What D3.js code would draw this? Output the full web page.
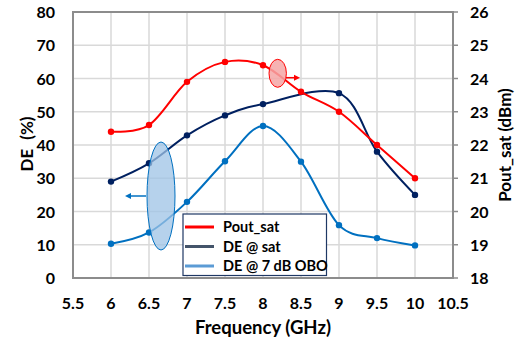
<!DOCTYPE html>
<html>
<head>
<meta charset="utf-8">
<script src="https://cdn.jsdelivr.net/npm/d3@7"></script>
<style>
  body { margin: 0; background: #fff; }
  text { font-family: Lato, "Noto Sans", sans-serif; font-weight: bold; fill: #000; }
</style>
</head>
<body>
<svg id="chart" width="518" height="348"></svg>
<script>
// data
const freq = [6, 6.5, 7, 7.5, 8, 8.5, 9, 9.5, 10];
const poutSat = [22.4, 22.6, 23.9, 24.5, 24.4, 23.6, 23.0, 22.0, 21.0];   // dBm, right axis
const deSatFreq = [6, 6.5, 7, 7.5, 8, 9, 9.5, 10];
const deSat = [29, 34.5, 42.9, 48.9, 52.3, 55.6, 38, 25];                 // %
const deObo = [10.3, 13.7, 22.9, 35.1, 45.7, 35.0, 15.9, 12.0, 9.8];      // %
const xTicks = [5.5, 6, 6.5, 7, 7.5, 8, 8.5, 9, 9.5, 10, 10.5];
const yTicks = [0, 10, 20, 30, 40, 50, 60, 70, 80];
const y2Ticks = [18, 19, 20, 21, 22, 23, 24, 25, 26];
const legendNames = ["Pout_sat", "DE @ sat", "DE @ 7 dB OBO"];

const svg = d3.select("#chart");
const pL = 73, pR = 453, pT = 12, pB = 278;

const x = d3.scaleLinear().domain([5.5, 10.5]).range([pL, pR]);
const y = d3.scaleLinear().domain([0, 80]).range([pB, pT]);
const y2 = d3.scaleLinear().domain([18, 26]).range([pB, pT]);

// grid
svg.append("g").selectAll("line").data(xTicks).enter().append("line")
  .attr("x1", d => x(d)).attr("x2", d => x(d)).attr("y1", pT).attr("y2", pB)
  .attr("stroke", "#d9d9d9").attr("stroke-width", 1.5);
svg.append("g").selectAll("line").data(yTicks).enter().append("line")
  .attr("x1", pL).attr("x2", pR).attr("y1", d => y(d)).attr("y2", d => y(d))
  .attr("stroke", "#d9d9d9").attr("stroke-width", 1.5);

// plot frame
svg.append("rect").attr("x", pL).attr("y", pT)
  .attr("width", pR - pL).attr("height", pB - pT)
  .attr("fill", "none").attr("stroke", "#8c8c8c").attr("stroke-width", 2);

// right tick marks
svg.append("g").selectAll("line").data(y2Ticks).enter().append("line")
  .attr("x1", pR).attr("x2", pR + 5).attr("y1", d => y2(d)).attr("y2", d => y2(d))
  .attr("stroke", "#8c8c8c").attr("stroke-width", 1.5);

// tick labels
svg.append("g").selectAll("text").data(xTicks).enter().append("text")
  .attr("x", d => x(d)).attr("y", 309).attr("text-anchor", "middle")
  .style("font-size", "16px").text(d => d);
svg.append("g").selectAll("text").data(yTicks).enter().append("text")
  .attr("x", 55).attr("y", d => y(d) + 6).attr("text-anchor", "end")
  .style("font-size", "16px").text(d => d);
svg.append("g").selectAll("text").data(y2Ticks).enter().append("text")
  .attr("x", 470).attr("y", d => y2(d) + 6).attr("text-anchor", "start")
  .style("font-size", "16px").text(d => d);

// axis titles
svg.append("text").attr("x", 263).attr("y", 334).attr("text-anchor", "middle")
  .style("font-size", "18.5px").text("Frequency (GHz)");
const deTitle = svg.append("text").attr("transform", "translate(33,144) rotate(-90)")
  .attr("text-anchor", "middle").style("font-size", "17px");
deTitle.append("tspan").text("DE");
deTitle.append("tspan").attr("dx", 9).text("(%)");
svg.append("text").attr("transform", "translate(511,145) rotate(-90)")
  .attr("text-anchor", "middle").style("font-size", "17px").text("Pout_sat (dBm)");

// series, Excel-style smoothing
const smooth = d3.curveCatmullRom.alpha(0);
function drawSeries(xs, ys, scale, color) {
  const pts = xs.map((d, i) => [x(d), scale(ys[i])]);
  svg.append("path").datum(pts)
    .attr("d", d3.line().curve(smooth))
    .attr("fill", "none").attr("stroke", color).attr("stroke-width", 2);
  svg.append("g").selectAll("circle").data(pts).enter().append("circle")
    .attr("cx", d => d[0]).attr("cy", d => d[1]).attr("r", 3.2).attr("fill", color);
}
drawSeries(freq, deObo, y, "#0070c0");
drawSeries(deSatFreq, deSat, y, "#002060");
drawSeries(freq, poutSat, y2, "#ff0000");

// annotations: ellipses with arrows
svg.append("ellipse").attr("cx", 161).attr("cy", 196).attr("rx", 14).attr("ry", 54)
  .attr("fill", "#9dc3e6").attr("fill-opacity", 0.75).attr("stroke", "#0070c0").attr("stroke-width", 1);
svg.append("line").attr("x1", 146).attr("x2", 129).attr("y1", 196).attr("y2", 196)
  .attr("stroke", "#0070c0").attr("stroke-width", 1.5);
svg.append("path").attr("d", "M125,196 L131,193 L131,199 Z").attr("fill", "#0070c0");

svg.append("ellipse").attr("cx", 277.7).attr("cy", 73.3).attr("rx", 8.7).attr("ry", 14)
  .attr("fill", "#f4a6a6").attr("fill-opacity", 0.85).attr("stroke", "#ff0000").attr("stroke-width", 1);
svg.append("line").attr("x1", 286).attr("x2", 296).attr("y1", 77.7).attr("y2", 77.7)
  .attr("stroke", "#ff0000").attr("stroke-width", 1.5);
svg.append("path").attr("d", "M300,77.7 L294,74.7 L294,80.7 Z").attr("fill", "#ff0000");

// legend
const legendColors = ["#ff0000", "#44546a", "#5b9bd5"];
const lg = svg.append("g");
lg.append("rect").attr("x", 183).attr("y", 214).attr("width", 143.5).attr("height", 61.5)
  .attr("fill", "#fff").attr("stroke", "#1f3864").attr("stroke-width", 1.2);
legendNames.forEach((name, i) => {
  const yy = 227 + i * 19.5;
  lg.append("line").attr("x1", 185).attr("x2", 214).attr("y1", yy).attr("y2", yy)
    .attr("stroke", legendColors[i]).attr("stroke-width", 3);
  lg.append("text").attr("x", 223).attr("y", yy + 5).style("font-size", "14.5px").text(name);
});
</script>
</body>
</html>
